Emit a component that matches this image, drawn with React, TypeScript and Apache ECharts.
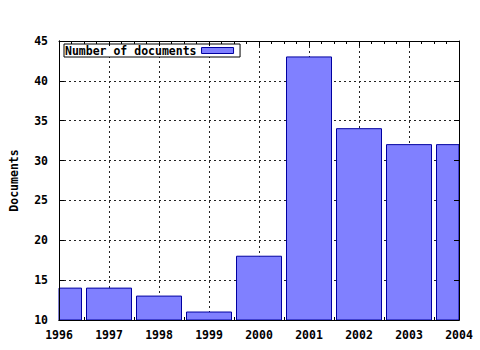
import React, { useEffect, useRef } from "react";
import * as echarts from "echarts";

const years: number[] = [1996, 1997, 1998, 1999, 2000, 2001, 2002, 2003, 2004];
const documents: number[] = [14, 14, 13, 11, 18, 43, 34, 32, 32];
const seriesName = "Number of documents";
const yTitle = "Documents";

const FONT = "DejaVu Sans Mono";
const txt = { fontFamily: FONT, fontWeight: "bold" as const, fontSize: 11.5, color: "#000" };
const black = { color: "#000", width: 1 };
const dotted = { color: "#222", width: 1, type: [2, 3] as number[] };
const BAR_FILL = "#8080ff";
const BAR_EDGE = "#0000a0";
const BAR_FRACTION = 0.9;

export default function App() {
  const ref = useRef<HTMLDivElement>(null);
  useEffect(() => {
    if (!ref.current) return;
    const chart = echarts.init(ref.current, undefined, { renderer: "svg" });
    const xBase = { type: "value" as const, min: 1996, max: 2004, interval: 1 };
    const yBase = { type: "value" as const, min: 10, max: 45, interval: 5 };
    chart.setOption({
      animation: false,
      backgroundColor: "#fff",
      grid: { left: 57, right: 21, top: 41, bottom: 30, containLabel: false },
      legend: {
        data: [seriesName],
        left: 64,
        top: 44,
        orient: "horizontal",
        align: "right",
        icon: "rect",
        itemWidth: 32,
        itemHeight: 6,
        padding: [0, 6, 0, 1],
        borderColor: "#000",
        borderWidth: 1,
        backgroundColor: "#fff",
        textStyle: { ...txt, lineHeight: 13 },
        itemStyle: { color: BAR_FILL, borderColor: BAR_EDGE, borderWidth: 1 },
      },
      xAxis: [
        {
          ...xBase,
          position: "bottom",
          axisLine: { show: true, onZero: false, lineStyle: black },
          axisTick: { show: true, inside: true, length: 5, lineStyle: black },
          minorTick: { show: true, splitNumber: 4, length: 3, lineStyle: black },
          splitLine: { show: true, lineStyle: dotted },
          axisLabel: { ...txt, margin: 9, formatter: (v: number) => String(v) },
        },
        {
          ...xBase,
          position: "top",
          z: 10,
          axisLine: { show: true, onZero: false, lineStyle: black },
          axisTick: { show: true, inside: true, length: 5, lineStyle: black },
          minorTick: { show: true, splitNumber: 4, length: 3, lineStyle: black },
          splitLine: { show: false },
          axisLabel: { show: false },
        },
        {
          ...xBase,
          position: "bottom",
          z: 10,
          axisLine: { show: true, onZero: false, lineStyle: black },
          axisTick: { show: false },
          splitLine: { show: false },
          axisLabel: { show: false },
        },
      ],
      yAxis: [
        {
          ...yBase,
          position: "left",
          name: yTitle,
          nameLocation: "middle",
          nameRotate: 90,
          nameGap: 39,
          nameTextStyle: txt,
          axisLine: { show: true, onZero: false, lineStyle: black },
          axisTick: { show: true, inside: true, length: 5, lineStyle: black },
          splitLine: { show: true, lineStyle: dotted },
          axisLabel: { ...txt, margin: 11 },
        },
        {
          ...yBase,
          position: "right",
          z: 10,
          axisLine: { show: true, onZero: false, lineStyle: black },
          axisTick: { show: true, inside: true, length: 5, lineStyle: black },
          splitLine: { show: false },
          axisLabel: { show: false },
        },
        {
          ...yBase,
          position: "left",
          z: 10,
          axisLine: { show: true, onZero: false, lineStyle: black },
          axisTick: { show: false },
          splitLine: { show: false },
          axisLabel: { show: false },
        },
      ],
      series: [
        {
          name: seriesName,
          type: "custom",
          xAxisIndex: 0,
          yAxisIndex: 0,
          encode: { x: 0, y: 1 },
          data: years.map((y, i) => [y, documents[i]]),
          itemStyle: { color: BAR_FILL, borderColor: BAR_EDGE, borderWidth: 1 },
          renderItem: (params: any, api: any) => {
            const xv = api.value(0);
            const yv = api.value(1);
            const top = api.coord([xv, yv]);
            const base = api.coord([xv, 10]);
            const w = api.size([1, 0])[0] * BAR_FRACTION;
            const cs = params.coordSys;
            const rect = echarts.graphic.clipRectByRect(
              { x: top[0] - w / 2, y: top[1], width: w, height: base[1] - top[1] },
              { x: cs.x, y: cs.y, width: cs.width, height: cs.height }
            );
            if (!rect) return null;
            return {
              type: "rect",
              shape: rect,
              style: { fill: BAR_FILL, stroke: BAR_EDGE, lineWidth: 1 },
            };
          },
        },
      ],
    });
    return () => chart.dispose();
  }, []);
  return (
    <div
      ref={ref}
      style={{ position: "absolute", left: 0, top: 0, width: 480, height: 350 }}
    />
  );
}
